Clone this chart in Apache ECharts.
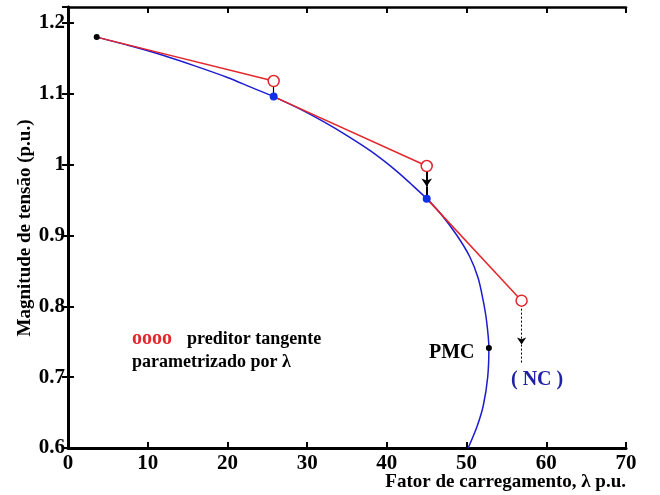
<!DOCTYPE html>
<html>
<head>
<meta charset="utf-8">
<script src="https://cdn.jsdelivr.net/npm/echarts@6/dist/echarts.min.js"></script>
<style>
  html, body { margin: 0; padding: 0; background: #fff; }
  #chart { width: 660px; height: 495px; }
</style>
</head>
<body>
<div id="chart"></div>
<script>
// curva PV (ramo superior + nariz + ramo inferior)
const pvLambda = [3.6, 8, 12, 16, 20, 23, 25.8, 29, 32, 35, 38, 41, 43, 45, 46.8, 48.8, 50.4, 51.45, 52.05, 52.5, 52.8, 52.65, 52.1, 51.3, 50.2]
const pvVolt = [1.18, 1.167, 1.154, 1.139, 1.123, 1.109, 1.096, 1.079, 1.061, 1.041, 1.019, 0.993, 0.973, 0.952, 0.93, 0.9, 0.87, 0.84, 0.81, 0.78, 0.741, 0.7, 0.66, 0.63, 0.6]

// preditor: parte de um ponto da curva e chega no circulo
const predFromLambda = [3.6, 25.8, 45]
const predFromVolt = [1.18, 1.096, 0.952]
const predToLambda = [25.8, 45, 56.9]
const predToVolt = [1.118, 0.998, 0.808]

// pontos corrigidos
const corrLambda = [25.8, 45]
const corrVolt = [1.096, 0.952]

const startPoint = [3.6, 1.18]
const pmcPoint = [52.8, 0.741]

// setas do corretor
const arrowLambda = [45, 56.9]
const arrowFrom = [0.998, 0.808]
const arrowHead = [0.969, 0.746]
const arrowEnd = [0.952, 0.72]

const xTicks = [0, 70, 10]
const yTicks = [0.6, 1.2225, 0.1]

const serif = '"Liberation Serif", "DejaVu Serif", serif'
const red = '#e3262b'
const blue = '#1c1cd0'

let myChart = echarts.init(document.getElementById('chart'))

let predSeries = predFromLambda.map((x, i) => ({
  type: 'line',
  data: [[x, predFromVolt[i]], [predToLambda[i], predToVolt[i]]],
  showSymbol: false,
  lineStyle: { color: red, width: 1.5 },
  z: 3
}))

let axisCommon = {
  axisLine: { lineStyle: { color: '#000', width: 3 } },
  axisTick: { inside: true, length: 6, lineStyle: { color: '#000', width: 2 } },
  splitLine: { show: false }
}

myChart.setOption({
  animation: false,
  grid: { left: 68, right: 34, top: 7, bottom: 47 },
  xAxis: [
    {
      type: 'value', min: xTicks[0], max: xTicks[1], interval: xTicks[2],
      ...axisCommon,
      axisLabel: { color: '#000', fontFamily: serif, fontWeight: 'bold', fontSize: 21, margin: 5 }
    },
    {
      type: 'value', position: 'top', min: xTicks[0], max: xTicks[1], interval: xTicks[2],
      ...axisCommon,
      axisLine: { lineStyle: { color: '#000', width: 2.5 } },
      axisLabel: { show: false }
    }
  ],
  yAxis: [
    {
      type: 'value', min: yTicks[0], max: yTicks[1], interval: yTicks[2],
      ...axisCommon,
      axisLabel: { color: '#000', fontFamily: serif, fontWeight: 'bold', fontSize: 21, margin: 3, showMaxLabel: false }
    },
    {
      type: 'value', position: 'right', min: yTicks[0], max: yTicks[1], interval: yTicks[2],
      ...axisCommon,
      axisLine: { lineStyle: { color: '#000', width: 2.5 } },
      axisLabel: { show: false }
    }
  ],
  graphic: [
    {
      type: 'text', x: 25, y: 228, rotation: Math.PI / 2,
      style: { text: 'Magnitude de tensão (p.u.)', fill: '#000', font: 'bold 19px ' + serif, align: 'center', verticalAlign: 'middle' }
    },
    { type: 'text', left: 132, top: 329, style: { text: 'oooo', fill: red, font: 'bold 20px ' + serif } },
    { type: 'text', left: 187, top: 330, style: { text: 'preditor tangente', fill: '#000', font: 'bold 18px ' + serif } },
    { type: 'text', left: 132, top: 353, style: { text: 'parametrizado por λ', fill: '#000', font: 'bold 18px ' + serif } },
    { type: 'text', left: 429, top: 343, style: { text: 'PMC', fill: '#000', font: 'bold 20px ' + serif } },
    { type: 'text', left: 511, top: 370, style: { text: '( NC )', fill: '#2020a8', font: 'bold 20px ' + serif } },
    { type: 'text', right: 34, top: 473, style: { text: 'Fator de carregamento, λ p.u.', fill: '#000', font: 'bold 19px ' + serif } }
  ],
  series: [
    {
      type: 'line',
      data: pvLambda.map((x, i) => [x, pvVolt[i]]),
      smooth: 0.3,
      showSymbol: false,
      lineStyle: { color: blue, width: 1.5 },
      z: 2
    },
    ...predSeries,
    {
      type: 'lines',
      coordinateSystem: 'cartesian2d',
      symbol: ['none', 'arrow'],
      symbolSize: 8,
      lineStyle: { color: '#000', width: 2, opacity: 1 },
      data: [{ coords: [[arrowLambda[0], arrowFrom[0]], [arrowLambda[0], arrowHead[0]]] }],
      z: 4
    },
    {
      type: 'lines',
      coordinateSystem: 'cartesian2d',
      symbol: ['none', 'none'],
      lineStyle: { color: '#000', width: 2, opacity: 1 },
      data: [
        { coords: [[arrowLambda[0], arrowHead[0]], [arrowLambda[0], arrowEnd[0]]] },
        { coords: [[corrLambda[0], predToVolt[0]], [corrLambda[0], corrVolt[0]]], lineStyle: { width: 1.2 } }
      ],
      z: 4
    },
    {
      type: 'lines',
      coordinateSystem: 'cartesian2d',
      symbol: ['none', 'arrow'],
      symbolSize: 7,
      lineStyle: { color: '#000', width: 1, type: [2, 2], opacity: 1 },
      data: [{ coords: [[arrowLambda[1], arrowFrom[1]], [arrowLambda[1], arrowHead[1]]] }],
      z: 4
    },
    {
      type: 'lines',
      coordinateSystem: 'cartesian2d',
      symbol: ['none', 'none'],
      lineStyle: { color: '#000', width: 1, type: [2, 2], opacity: 1 },
      data: [{ coords: [[arrowLambda[1], arrowHead[1]], [arrowLambda[1], arrowEnd[1]]] }],
      z: 4
    },
    {
      type: 'scatter',
      data: predToLambda.map((x, i) => [x, predToVolt[i]]),
      symbol: 'circle',
      symbolSize: 11,
      itemStyle: { color: '#fff', borderColor: red, borderWidth: 1.5, opacity: 1 },
      z: 5
    },
    {
      type: 'scatter',
      data: corrLambda.map((x, i) => [x, corrVolt[i]]),
      symbolSize: 8,
      itemStyle: { color: '#1030e8', opacity: 1 },
      z: 5
    },
    {
      type: 'scatter',
      data: [startPoint, pmcPoint],
      symbolSize: 6,
      itemStyle: { color: '#000', opacity: 1 },
      z: 5
    }
  ]
})
</script>
</body>
</html>
